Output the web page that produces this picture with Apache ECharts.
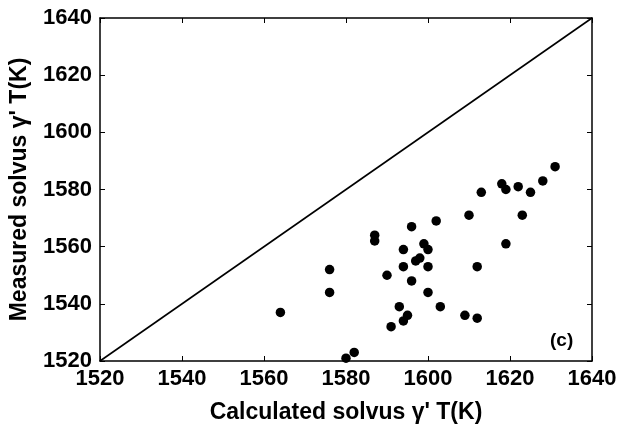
<!DOCTYPE html>
<html><head><meta charset="utf-8">
<script src="https://cdn.jsdelivr.net/npm/echarts@6/dist/echarts.min.js"></script>
<style>html,body{margin:0;padding:0;background:#fff}#c{width:620px;height:429px}</style>
</head><body><div id="c"></div>
<script>
const calculated = [1564,1576,1576,1580,1582,1587,1587,1590,1591,1593,1594,1594,1594,1595,1596,1596,1597,1598,1599,1600,1600,1600,1602,1603,1609,1610,1612,1612,1613,1618,1619,1619,1622,1623,1625,1628,1631];
const measured   = [1537,1552,1544,1521,1523,1564,1562,1550,1532,1539,1559,1553,1534,1536,1567,1548,1555,1556,1561,1559,1553,1544,1569,1539,1536,1571,1553,1535,1579,1582,1580,1561,1581,1571,1579,1583,1588];
const diagonal = [[1520,1520],[1640,1640]];
const ticks = [1520,1540,1560,1580,1600,1620,1640];
const panelLabel = '(c)';

const font = 'Liberation Sans, Arial, sans-serif';
const lbl = {color:'#000', fontSize:22, fontWeight:'bold', fontFamily:font};
function axisBase(extra){
  return Object.assign({type:'value', min:1520, max:1640, interval:20,
    axisLine:{show:true, lineStyle:{color:'#000', width:1.5}},
    axisTick:{show:true, inside:true, length:5, lineStyle:{color:'#000'}},
    splitLine:{show:false}}, extra);
}
const chart = echarts.init(document.getElementById('c'), null, {renderer:'canvas'});
chart.setOption({
  animation:false,
  grid:{left:100, right:28, top:18, bottom:67},
  xAxis:[
    axisBase({position:'bottom', name:"Calculated solvus \u03b3' T(K)", nameLocation:'middle', nameGap:40,
      nameTextStyle:Object.assign({}, lbl, {fontSize:23}),
      axisLabel:Object.assign({margin:7, formatter:v=>String(v)}, lbl)}),
    axisBase({position:'top', axisLabel:{show:false}})
  ],
  yAxis:[
    axisBase({position:'left', name:"Measured solvus \u03b3' T(K)", nameLocation:'middle', nameGap:69,
      nameTextStyle:Object.assign({}, lbl, {fontSize:23}),
      axisLabel:Object.assign({margin:8, formatter:v=>String(v)}, lbl)}),
    axisBase({position:'right', axisLabel:{show:false}})
  ],
  series:[
    {type:'line', data:diagonal, symbol:'none', lineStyle:{color:'#000', width:1.6}, silent:true},
    {type:'scatter', data:calculated.map((x,i)=>[x, measured[i]]), symbolSize:9.5,
      itemStyle:{color:'#000', opacity:1}}
  ],
  graphic:[{type:'text', left:550, top:331, style:{text:panelLabel, fill:'#000', font:'bold 19px '+font}}]
});
</script></body></html>
